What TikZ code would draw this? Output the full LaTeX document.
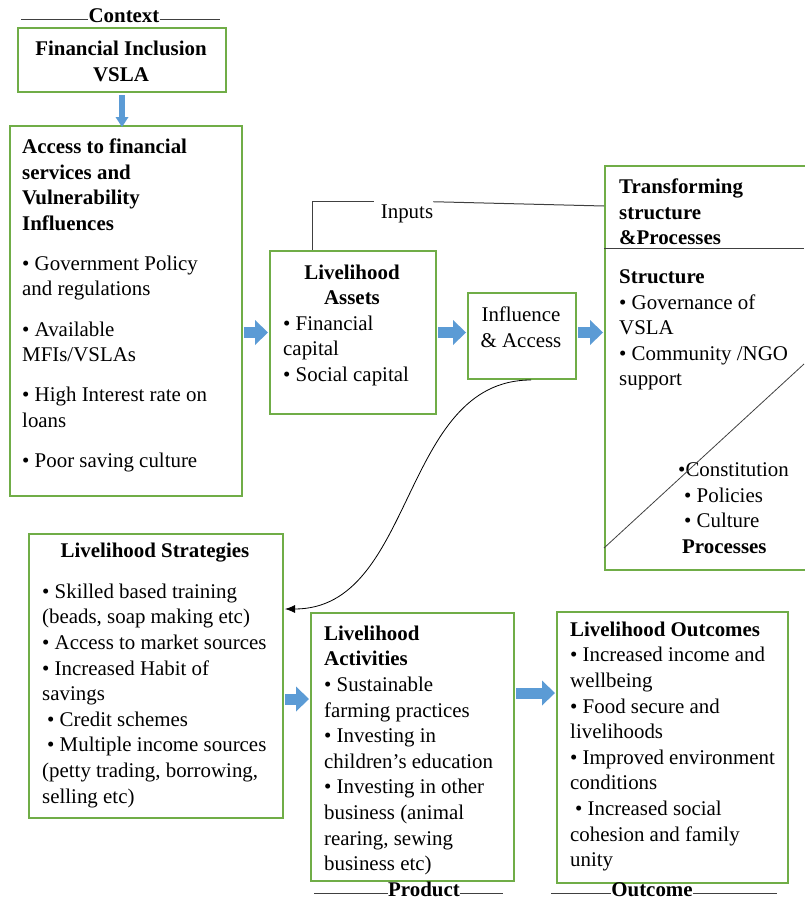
\documentclass[tikz,border=0pt]{standalone}
\usepackage{fontspec}
\setmainfont{Liberation Serif}
\usepackage{xcolor}
\usepackage{tikz}
\usetikzlibrary{arrows.meta}
\definecolor{boxgreen}{HTML}{70AD47}
\definecolor{arrowblue}{HTML}{5B9BD5}
\definecolor{rulegray}{HTML}{404040}
\newcommand{\bodysize}{\fontsize{20.9pt}{25.6pt}\selectfont}
\tikzset{
  box/.style={draw=boxgreen,line width=2pt,rectangle,anchor=north west,inner sep=0pt},
  txt/.style={anchor=north west,inner sep=0pt,align=left,font=\bodysize},
  head/.style={anchor=north,inner sep=0pt,align=center,font=\bodysize\bfseries},
  bluearr/.style={draw=arrowblue,line width=11pt,-{Triangle[length=13pt,width=25pt,line width=0pt]}},
  thinrule/.style={draw=rulegray,line width=1pt}
}

\begin{document}
\begin{tikzpicture}[x=1pt,y=-1pt]
            \useasboundingbox (0,0) rectangle (804,899);
            % boxes
            \node[box,minimum width=208pt,minimum height=64pt] (fi) at (17,27) {};
            \node[box,minimum width=232pt,minimum height=370pt] (access) at (9,125) {};
            \node[box,minimum width=166pt,minimum height=163pt] (assets) at (269,250) {};
            \node[box,minimum width=108pt,minimum height=86pt] (infl) at (467,292) {};
            \node[box,minimum width=210pt,minimum height=404pt] (trans) at (604,165) {};
            \node[box,minimum width=254pt,minimum height=284pt] (strat) at (28,533) {};
            \node[box,minimum width=203pt,minimum height=268pt] (act) at (310,612) {};
            \node[box,minimum width=231pt,minimum height=271pt] (outc) at (556,611) {};
            % texts
            \node[head] (fitxt) at (121,41) {Financial Inclusion\\VSLA};
            \node[txt] (accesstxt) at (22,138.5) {\textbf{Access to financial}\\\textbf{services and}\\\textbf{Vulnerability}\\\textbf{Influences}\\[14.5pt]
              \textbullet{} Government Policy\\and regulations\\[14.5pt]\textbullet{} Available\\MFIs/VSLAs\\[14.5pt]
              \textbullet{} High Interest rate on\\loans\\[14.5pt]\textbullet{} Poor saving culture};
            \node[head] (assetshd) at (352,264.5) {Livelihood\\Assets};
            \node[txt] (assetstxt) at (283,315.5) {\textbullet{} Financial\\capital\\\textbullet{} Social capital};
            \node[txt,anchor=north,align=center] (infltxt) at (521,307) {Influence\\\& Access};
            \node[txt] (transhd) at (619,178.5) {\textbf{Transforming}\\\textbf{structure}\\\textbf{\&Processes}};
            \node[txt] (structtxt) at (619,269.5) {\textbf{Structure}\\\textbullet{} Governance of\\VSLA\\\textbullet{} Community /NGO\\support};
            \node[txt] (proctxt) at (678,462.5) {\textbullet Constitution\\\hspace*{6pt}\textbullet{} Policies\\\hspace*{6pt}\textbullet{} Culture\\\hspace*{4pt}\textbf{Processes}};
            \node[head] (strathd) at (155,542.5) {Livelihood Strategies};
            \node[txt] (strattxt) at (42,583.5) {\textbullet{} Skilled based training\\(beads, soap making etc)\\\textbullet{} Access to market sources\\
              \textbullet{} Increased Habit of\\savings\\\hspace*{5pt}\textbullet{} Credit schemes\\\hspace*{5pt}\textbullet{} Multiple income sources\\
              (petty trading, borrowing,\\selling etc)};
            \node[txt] (acttxt) at (324,625.5) {\textbf{Livelihood}\\\textbf{Activities}\\\textbullet{} Sustainable\\farming practices\\
              \textbullet{} Investing in\\children’s education\\\textbullet{} Investing in other\\business (animal\\rearing, sewing\\business etc)};
            \node[txt] (outctxt) at (570,621.5) {\textbf{Livelihood Outcomes}\\\textbullet{} Increased income and\\wellbeing\\\textbullet{} Food secure and\\
              livelihoods\\\textbullet{} Improved environment\\conditions\\\hspace*{5pt}\textbullet{} Increased social\\cohesion and family\\unity};
            % section labels
            \node[inner sep=0pt,font=\bodysize\bfseries,anchor=base] (ctxlbl) at (124,22.5) {Context};
            \node[inner sep=0pt,font=\bodysize\bfseries,anchor=base] (prodlbl) at (424,896) {Product};
            \node[inner sep=0pt,font=\bodysize\bfseries,anchor=base] (outlbl) at (652,896) {Outcome};
            \node[inner sep=0pt,font=\bodysize] (inplbl) at (407,214) {Inputs};
            \draw[thinrule] (21,20) -- ([yshift=2.5pt]ctxlbl.base west);
            \draw[thinrule] ([yshift=2.5pt]ctxlbl.base east) -- (220,20);
            \draw[thinrule] (314,893) -- ([yshift=3pt]prodlbl.base west);
            \draw[thinrule] ([yshift=3pt]prodlbl.base east) -- (503,893);
            \draw[thinrule] (551,893) -- ([yshift=3pt]outlbl.base west);
            \draw[thinrule] ([yshift=3pt]outlbl.base east) -- (777,893);
            \draw[thinrule] ([xshift=43pt]assets.north west) |- ([xshift=-7pt,yshift=3pt]inplbl.north west);
            \draw[thinrule] ([yshift=3pt]inplbl.north east) -- ([yshift=-41pt]trans.north west);
            % inside the transforming box
            \draw[thinrule] ([yshift=-83pt]trans.north west) -- ++(200,0);
            \draw[thinrule,line width=0.8pt] ([yshift=23pt]trans.south west) -- (804,364);
            % arrows
            \draw[draw=arrowblue,line width=6pt,-{Triangle[length=10pt,width=13pt,line width=0pt]}] ([yshift=-2pt]fi.south) -- ([yshift=-2pt]fi.south |- access.north);
            \draw[bluearr] ([xshift=1pt]access.east |- assets.west) -- ([xshift=-1pt]assets.west);
            \draw[bluearr] ([xshift=1pt]assets.east) -- ([xshift=-1pt]assets.east -| infl.west);
            \draw[bluearr] ([xshift=1pt]infl.east |- assets.east) -- ([xshift=-1pt]assets.east -| trans.west);
            \draw[bluearr] ([xshift=1pt,yshift=-23pt]strat.east) -- ([xshift=-1pt,yshift=-23pt]strat.east -| act.west);
            \draw[bluearr] ([xshift=1pt,yshift=54pt]act.east) -- ([xshift=-1pt,yshift=54pt]act.east -| outc.west);
            \draw[line width=0.8pt,-{Latex[length=10pt,width=8pt]}] ([xshift=9pt]infl.south) to[out=180,in=0] ([xshift=1pt,yshift=67pt]strat.east);
        \end{tikzpicture}
\end{document}
